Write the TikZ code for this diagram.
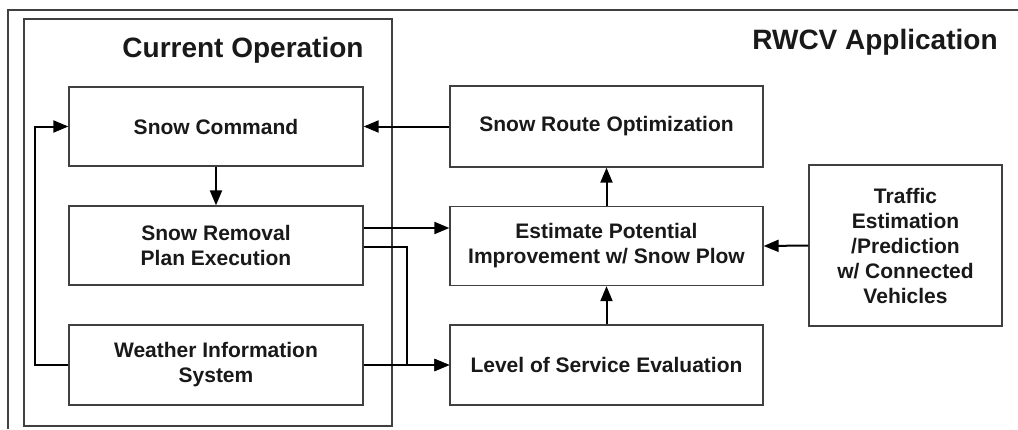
\documentclass[tikz,border=0pt]{standalone}
\usepackage{fontspec}
\setmainfont{Liberation Sans}
\usetikzlibrary{arrows.meta}
\begin{document}
\begin{tikzpicture}[x=1pt,y=-1pt,
  box/.style={draw=black!75,line width=1.3pt,rectangle,inner sep=0pt,align=center,
    font=\fontsize{21}{25}\selectfont\bfseries,text=black!90},
  frame/.style={draw=black!75,line width=1.2pt},
  arr/.style={draw=black,line width=2pt,-{Triangle[length=15pt,width=12pt]}},
  title/.style={font=\fontsize{28}{34}\selectfont\bfseries,text=black!90,anchor=base,inner sep=0pt}]
\useasboundingbox (0,0) rectangle (1018,429);
\fill[white] (0,0) rectangle (1018,429);
% outer frame (cut by page)
\draw[frame] (8,429) -- (8,10) -- (1018,10);
% current operation frame
\node[frame,rectangle,minimum width=368pt,minimum height=407pt,inner sep=0pt] (cur) at (208,222.5) {};
\node[title] (curt) at (243,57) {Current Operation};
\node[title] (appt) at (875,49) {RWCV Application};
% boxes
\node[box,minimum width=294pt,minimum height=79pt] (command) at (216,126.5) {Snow Command};
\node[box,minimum width=294pt,minimum height=79pt] (removal) at (216,245.5) {Snow Removal\\Plan Execution};
\node[box,minimum width=294pt,minimum height=80pt] (weather) at (216,365) {Weather Information\\System};
\node[box,minimum width=313pt,minimum height=81pt] (route) at (606.5,126.5) {Snow Route Optimization};
\node[box,minimum width=313pt,minimum height=79pt] (estimate) at (606.5,246) {Estimate Potential\\Improvement w/ Snow Plow};
\node[box,minimum width=313pt,minimum height=80pt] (level) at (606.5,365) {Level of Service Evaluation};
\node[box,minimum width=193pt,minimum height=161pt] (traffic) at (905.5,245.5) {Traffic\\Estimation\\/Prediction\\w/ Connected\\Vehicles};
% connectors
\coordinate (bend) at (407,247);
\draw[arr] (route.west) -- (command.east);
\draw[arr] (command.south) -- (removal.north);
\draw[arr] (removal.east |- 0,228) -- (estimate.west |- 0,228);
\draw[arr] (removal.east |- bend) -- (bend) -- (bend |- level.west) -- (level.west);
\draw[arr] (weather.east) -- (level.west);
\draw[arr] (weather.west) -- ++(-33,0) |- (command.west);
\draw[arr] (estimate.north) -- (route.south);
\draw[arr] (level.north) -- (estimate.south);
\draw[arr] (traffic.west) -- (estimate.east);
\end{tikzpicture}
\end{document}
